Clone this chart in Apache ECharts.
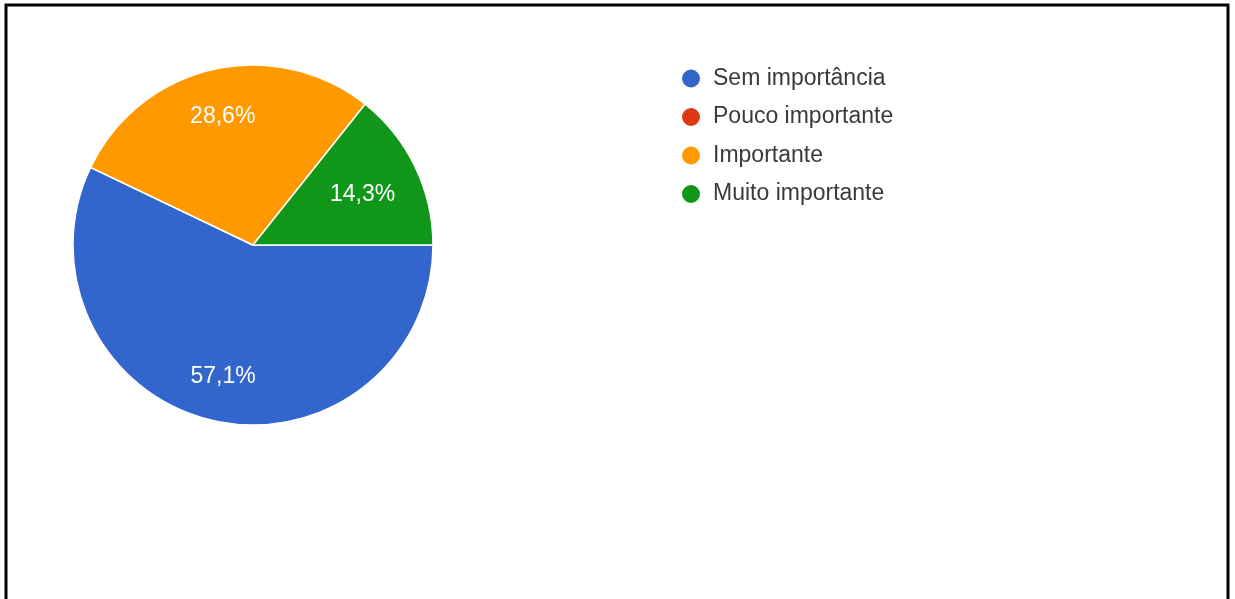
<!DOCTYPE html>
<html>
<head>
<meta charset="utf-8">
<style>
  html, body { margin: 0; padding: 0; background: #ffffff; }
  #chart { width: 1235px; height: 599px; }
</style>
<script src="https://cdn.jsdelivr.net/npm/echarts@6/dist/echarts.min.js"></script>
</head>
<body>
<div id="chart"></div>
<script>
// Answer categories and their share of responses (%)
const categories = ['Sem importância', 'Pouco importante', 'Importante', 'Muito importante'];
const shares = [57.1, 0, 28.6, 14.3];
const colors = ['#3366cc', '#dc3912', '#ff9900', '#109618'];

const slices = categories.map((name, i) => ({
  name: name,
  value: shares[i],
  itemStyle: { color: colors[i] }
}));

const fmt = p => p.value > 0 ? p.value.toFixed(1).replace('.', ',') + '%' : '';

// small nudges so the narrower slices keep their label nearer the centre
const labelNudge = { 2: { dx: 0, dy: 3 }, 3: { dx: -12, dy: 8 } };

const chart = echarts.init(document.getElementById('chart'), null, { renderer: 'canvas' });
chart.setOption({
  animation: false,
  backgroundColor: '#ffffff',
  textStyle: { fontFamily: 'Liberation Sans, Arial, sans-serif' },
  graphic: [{
    type: 'rect',
    shape: { x: 6, y: 5, width: 1222, height: 640 },
    style: { fill: 'none', stroke: '#000000', lineWidth: 3 },
    silent: true
  }],
  legend: {
    orient: 'vertical',
    left: 675,
    top: 61,
    icon: 'circle',
    itemWidth: 32,
    itemHeight: 20,
    itemGap: 13.5,
    data: categories,
    textStyle: {
      fontFamily: 'Liberation Sans, Arial, sans-serif',
      fontSize: 23,
      color: '#3a3a3a',
      lineHeight: 25,
      padding: [0, 0, 0, 1]
    }
  },
  series: [
    {
      // slices
      type: 'pie',
      center: [253, 245],
      radius: [0, 180],
      startAngle: 0,
      clockwise: true,
      avoidLabelOverlap: false,
      data: slices,
      label: { show: false },
      labelLine: { show: false },
      itemStyle: { borderColor: '#ffffff', borderWidth: 1.5 },
      emphasis: { disabled: true }
    },
    {
      // percentage labels placed in the outer part of each slice
      type: 'pie',
      center: [253, 245],
      radius: [84, 180],
      startAngle: 0,
      clockwise: true,
      silent: true,
      legendHoverLink: false,
      avoidLabelOverlap: false,
      data: categories.map((name, i) => ({ name: name, value: shares[i] })),
      itemStyle: { color: 'rgba(0,0,0,0)', borderWidth: 0 },
      label: {
        show: true,
        position: 'inside',
        formatter: fmt,
        color: '#ffffff',
        fontSize: 23,
        fontFamily: 'Liberation Sans, Arial, sans-serif'
      },
      labelLayout: p => labelNudge[p.dataIndex] || {},
      labelLine: { show: false },
      emphasis: { disabled: true }
    }
  ]
});
</script>
</body>
</html>
